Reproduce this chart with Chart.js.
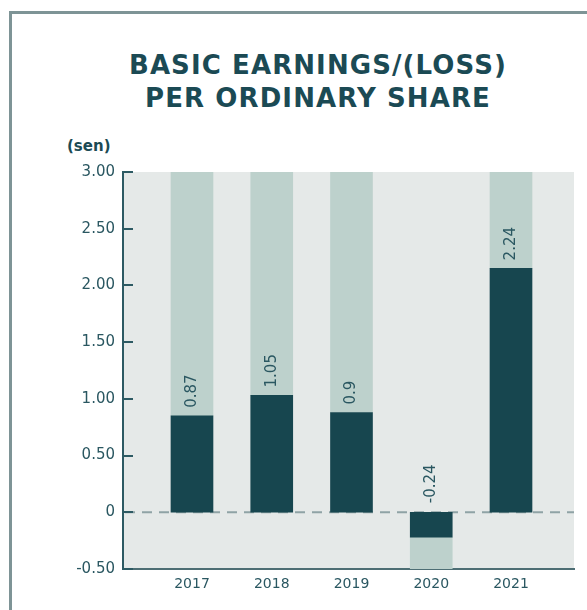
<!DOCTYPE html>
<html>
<head>
<meta charset="utf-8">
<script src="https://cdn.jsdelivr.net/npm/chart.js@4/dist/chart.umd.min.js"></script>
<style>
  html, body { margin: 0; padding: 0; background: #ffffff; }
  #wrap { position: relative; width: 587px; height: 610px; overflow: hidden; }
  #frameTop { position: absolute; left: 9px; top: 11px; width: 578px; height: 3px; background: #7e9496; }
  #frameLeft { position: absolute; left: 9px; top: 11px; width: 3px; height: 599px; background: #7e9496; }
  #title { position: absolute; left: 10px; width: 616px; top: 49px; text-align: center;
           font-family: "DejaVu Sans", sans-serif; font-weight: 700; font-size: 26px; line-height: 33px;
           color: #1b4a54; letter-spacing: 1.1px; }
  #unit { position: absolute; left: 67px; top: 137px; font-family: "DejaVu Sans", sans-serif; font-weight: 700;
          font-size: 15px; color: #1b4a54; }
  #c { position: absolute; left: 0; top: 0; }
</style>
</head>
<body>
<div id="wrap">
  <div id="frameTop"></div>
  <div id="frameLeft"></div>
  <div id="title">BASIC EARNINGS/(LOSS)<br>PER ORDINARY SHARE</div>
  <div id="unit">(sen)</div>
  <canvas id="c" width="587" height="610"></canvas>
</div>
<script>
// ---- data ----
const years = ['2017', '2018', '2019', '2020', '2021'];
const barValues = [0.85, 1.03, 0.88, -0.22, 2.15];
const valueLabels = ['0.87', '1.05', '0.9', '-0.24', '2.24'];
const yMin = -0.5;
const yMax = 3.0;
const yStep = 0.5;

const DARK = '#17464f';
const LIGHT = '#bdd1cc';
const PLOT_BG = '#e5e9e8';
const TEXT = '#2a5761';
const FONT = '"DejaVu Sans", sans-serif';

const darkData = barValues.map((v, i) => ({ x: i, y: v }));
const lightData = barValues.map((v, i) => ({ x: i, y: v >= 0 ? [v, yMax] : [yMin, v] }));

const bgPlugin = {
  id: 'bgPlugin',
  beforeDraw(chart) {
    const { ctx, chartArea: a } = chart;
    ctx.save();
    ctx.fillStyle = PLOT_BG;
    ctx.fillRect(a.left, a.top, a.right - a.left, a.bottom - a.top);
    ctx.restore();
  },
  beforeDatasetsDraw(chart) {
    const { ctx, chartArea: a, scales } = chart;
    const y0 = scales.y.getPixelForValue(0);
    ctx.save();
    ctx.strokeStyle = '#8fa3a5';
    ctx.lineWidth = 2;
    ctx.setLineDash([10, 7]);
    ctx.beginPath();
    ctx.moveTo(a.left + 2, y0);
    ctx.lineTo(a.right, y0);
    ctx.stroke();
    ctx.restore();
  },
  afterDraw(chart) {
    const { ctx, chartArea: a, scales } = chart;
    const ys = scales.y;
    ctx.save();
    ctx.strokeStyle = '#2d5a63';
    ctx.lineWidth = 2;
    ys.ticks.forEach(t => {
      const py = Math.round(ys.getPixelForValue(t.value));
      ctx.beginPath();
      ctx.moveTo(a.left, py);
      ctx.lineTo(a.left + 10, py);
      ctx.stroke();
    });
    // value labels
    const meta = chart.getDatasetMeta(1);
    const y0 = ys.getPixelForValue(0);
    ctx.fillStyle = TEXT;
    ctx.font = '15px ' + FONT;
    ctx.textBaseline = 'middle';
    ctx.textAlign = 'left';
    meta.data.forEach((el, i) => {
      const v = barValues[i];
      const base = v >= 0 ? el.y - 8 : y0 - 9;
      ctx.save();
      ctx.translate(el.x, base);
      ctx.rotate(-Math.PI / 2);
      ctx.fillText(valueLabels[i], 0, 0);
      ctx.restore();
    });
    ctx.restore();
  }
};

new Chart(document.getElementById('c'), {
  type: 'bar',
  data: {
    datasets: [
      { data: lightData, backgroundColor: LIGHT, grouped: false, barThickness: 42, order: 2 },
      { data: darkData, backgroundColor: DARK, grouped: false, barThickness: 42, order: 1 }
    ]
  },
  options: {
    responsive: false,
    animation: false,
    events: [],
    layout: { padding: { left: 0, right: 13, top: 172, bottom: 0 } },
    plugins: { legend: { display: false }, tooltip: { enabled: false } },
    scales: {
      x: {
        type: 'linear',
        offset: false,
        min: -0.865,
        max: 4.79,
        afterBuildTicks(scale) { scale.ticks = years.map((_, i) => ({ value: i })); },
        afterFit(scale) { scale.height = 41; },
        grid: { display: false, drawTicks: false },
        border: { display: true, color: '#4d6e74', width: 2 },
        ticks: {
          padding: 7,
          color: TEXT,
          font: { family: FONT, size: 14 },
          callback: (v) => years[v] ?? ''
        }
      },
      y: {
        min: yMin,
        max: yMax,
        afterFit(scale) { scale.width = 123; },
        grid: { display: false, drawTicks: false },
        border: { display: true, color: '#2d5a63', width: 2 },
        ticks: {
          stepSize: yStep,
          padding: 8,
          color: TEXT,
          font: { family: FONT, size: 15 },
          callback: (v) => v === 0 ? '0' : v.toFixed(2)
        }
      }
    }
  },
  plugins: [bgPlugin]
});
</script>
</body>
</html>
